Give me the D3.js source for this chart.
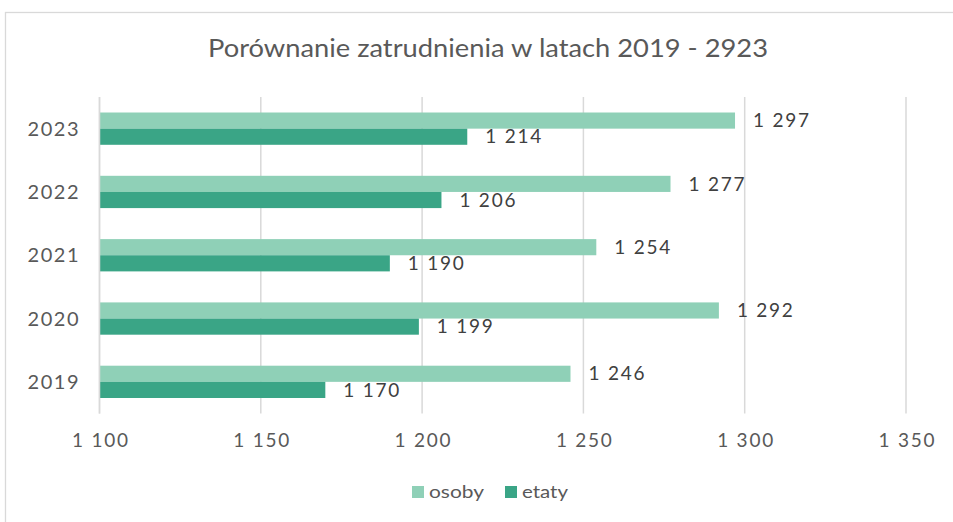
<!DOCTYPE html>
<html>
<head>
<meta charset="utf-8">
<script src="https://cdn.jsdelivr.net/npm/d3@7"></script>
<style>
  html, body { margin: 0; padding: 0; background: #fff; }
  svg { display: block; font-family: "Lato", "Open Sans", sans-serif; }
</style>
</head>
<body>
<svg id="chart" width="953" height="522"></svg>
<script>
// Employment comparison, 2019–2023
const years = ["2019", "2020", "2021", "2022", "2023"];
const osoby = [1246, 1292, 1254, 1277, 1297];
const etaty = [1170, 1199, 1190, 1206, 1214];
const xTicks = [1100, 1150, 1200, 1250, 1300, 1350];
const seriesNames = ["osoby", "etaty"];
const seriesColors = ["#8fd0b7", "#3aa586"];

const svg = d3.select("#chart");
const W = 953, H = 522;
const plot = { left: 99.5, right: 906, top: 97, bottom: 413.5 };
const textColor = "#595959";
const gridColor = "#d9d9d9";

const pl = d3.formatLocale({ decimal: ",", thousands: "\u00a0", grouping: [3], currency: ["", " zł"] });
const fmt = pl.format(",d");

// chart frame
svg.append("rect")
  .attr("x", 5.5).attr("y", 12.5)
  .attr("width", W).attr("height", H)
  .attr("fill", "#fff").attr("stroke", "#d9d9d9").attr("stroke-width", 1.3);

// title
svg.append("text")
  .attr("x", 488).attr("y", 57)
  .attr("text-anchor", "middle")
  .attr("fill", textColor)
  .attr("font-size", 25)
  .attr("textLength", 560).attr("lengthAdjust", "spacingAndGlyphs")
  .text("Porównanie zatrudnienia w latach 2019 - 2923");

const x = d3.scaleLinear().domain([1100, 1350]).range([plot.left, plot.right]);
const y = d3.scaleBand().domain(years.slice().reverse()).range([plot.top, plot.bottom]).paddingInner(0.49).paddingOuter(0.245);
const sub = d3.scaleBand().domain(seriesNames).range([0, y.bandwidth()]);

// vertical gridlines
svg.append("g").selectAll("line").data(xTicks).join("line")
  .attr("x1", d => x(d)).attr("x2", d => x(d))
  .attr("y1", plot.top).attr("y2", plot.bottom)
  .attr("stroke", gridColor).attr("stroke-width", 1.5);

// x axis labels
const xAxis = d3.axisBottom(x).tickValues(xTicks).tickSize(0).tickPadding(0).tickFormat(fmt);
const gx = svg.append("g").attr("transform", `translate(0,${plot.bottom})`).call(xAxis);
gx.select(".domain").remove();
gx.selectAll("text")
  .attr("y", 33)
  .attr("dy", 0)
  .attr("fill", textColor)
  .attr("font-size", 19)
  .attr("font-family", "Lato, sans-serif")
  .attr("textLength", 56).attr("lengthAdjust", "spacing");

// category axis labels
const yAxis = d3.axisLeft(y).tickSize(0).tickPadding(0);
const gy = svg.append("g").attr("transform", `translate(${plot.left},0)`).call(yAxis);
gy.select(".domain").remove();
gy.selectAll("text")
  .attr("x", -21)
  .attr("dy", "0.35em")
  .attr("fill", textColor)
  .attr("font-size", 20)
  .attr("font-family", "Lato, sans-serif")
  .attr("textLength", 51).attr("lengthAdjust", "spacing");

// bars + value labels
const series = [osoby, etaty];
series.forEach((vals, si) => {
  const name = seriesNames[si];
  const g = svg.append("g");
  g.selectAll("rect").data(years).join("rect")
    .attr("x", x(1100))
    .attr("y", (d) => y(d) + sub(name))
    .attr("width", (d, i) => x(vals[i]) - x(1100))
    .attr("height", sub.bandwidth())
    .attr("fill", seriesColors[si]);
  g.selectAll("text").data(years).join("text")
    .attr("x", (d, i) => x(vals[i]) + 18)
    .attr("y", (d) => y(d) + sub(name) + sub.bandwidth() / 2)
    .attr("dy", "0.35em")
    .attr("fill", "#404040")
    .attr("font-size", 19)
    .attr("textLength", 56).attr("lengthAdjust", "spacing")
    .text((d, i) => fmt(vals[i]));
});

// category axis line
svg.append("line")
  .attr("x1", plot.left).attr("x2", plot.left)
  .attr("y1", plot.top).attr("y2", plot.bottom)
  .attr("stroke", gridColor).attr("stroke-width", 1.5);

// legend
const legendX = [412, 505];
const legendW = [55, 46];
const lg = svg.append("g");
seriesNames.forEach((n, i) => {
  lg.append("rect")
    .attr("x", legendX[i]).attr("y", 486)
    .attr("width", 12).attr("height", 12)
    .attr("fill", seriesColors[i]);
  lg.append("text")
    .attr("x", legendX[i] + 17).attr("y", 492)
    .attr("dy", "0.35em")
    .attr("fill", textColor)
    .attr("font-size", 18)
    .attr("textLength", legendW[i]).attr("lengthAdjust", "spacingAndGlyphs")
    .text(n);
});
</script>
</body>
</html>
